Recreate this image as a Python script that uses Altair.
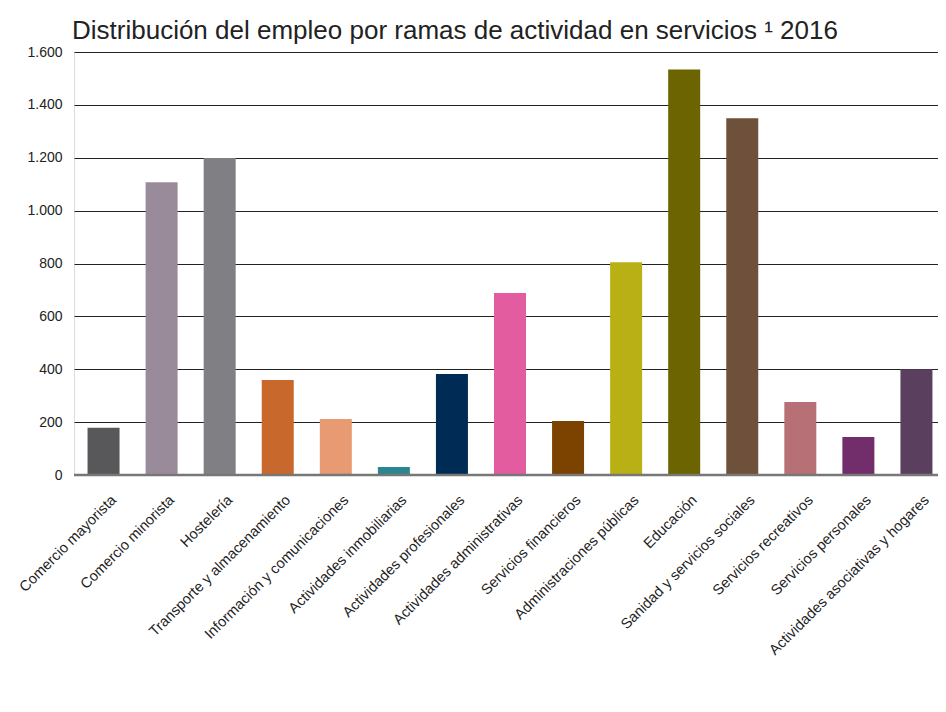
import altair as alt
import pandas as pd

categories = [
    "Comercio mayorista", "Comercio minorista", "Hostelería",
    "Transporte y almacenamiento", "Información y comunicaciones",
    "Actividades inmobiliarias", "Actividades profesionales",
    "Actividades administrativas", "Servicios financieros",
    "Administraciones públicas", "Educación",
    "Sanidad y servicios sociales", "Servicios recreativos",
    "Servicios personales", "Actividades asociativas y hogares",
]
values = [179, 1107, 1199, 359, 212, 30, 382, 688, 204, 805, 1534, 1349, 276, 144, 400]
colors = ["#58585a", "#9a8b9a", "#808084", "#c9682c", "#e89a72", "#2a8690",
          "#002b55", "#e45ca0", "#7b4200", "#b8b015", "#6b6400", "#6f513b",
          "#b77176", "#722e6a", "#5a3f5e"]
y_ticks = [0, 200, 400, 600, 800, 1000, 1200, 1400, 1600]

df = pd.DataFrame({"cat": categories, "val": values})

FONT = "Liberation Sans"

bars = alt.Chart(df).mark_bar(size=32).encode(
    x=alt.X("cat:N", sort=categories, title=None,
            scale=alt.Scale(paddingInner=0.45, paddingOuter=0.234),
            axis=alt.Axis(labelAngle=-45, labelAlign="right", labelBaseline="top",
                          labelFontSize=14.6, labelColor="#222", labelFont=FONT,
                          ticks=False, domain=False, labelPadding=17, labelOffset=5,
                          labelLimit=400)),
    y=alt.Y("val:Q", title=None,
            scale=alt.Scale(domain=[0, 1600], nice=False),
            axis=alt.Axis(values=y_ticks, grid=True, gridColor="#222", gridWidth=1.2,
                          ticks=False, domain=False, labelFontSize=14, labelColor="#222",
                          labelFont=FONT, labelPadding=12,
                          labelExpr="replace(format(datum.value, ','), ',', '.')")),
    color=alt.Color("cat:N", sort=categories,
                    scale=alt.Scale(domain=categories, range=colors), legend=None),
)

baseline = alt.Chart(pd.DataFrame({"v": [0]})).mark_rule(color="#777", strokeWidth=2.5).encode(y="v:Q")

chart = alt.layer(bars, baseline).properties(
    width=872, height=423,
    autosize=alt.AutoSizeParams(type="none"),
    title=alt.TitleParams("Distribución del empleo por ramas de actividad en servicios ¹ 2016",
                          anchor="start", frame="group", fontSize=26, font=FONT,
                          fontWeight="normal", color="#222", offset=1, dx=-2),
    padding={"left": 66, "top": 44, "right": -8, "bottom": 229},
).configure_view(fill="#c9d996", stroke=None).configure(background="white")

chart.save("out.html", embed_options={"renderer": "svg", "actions": False})
